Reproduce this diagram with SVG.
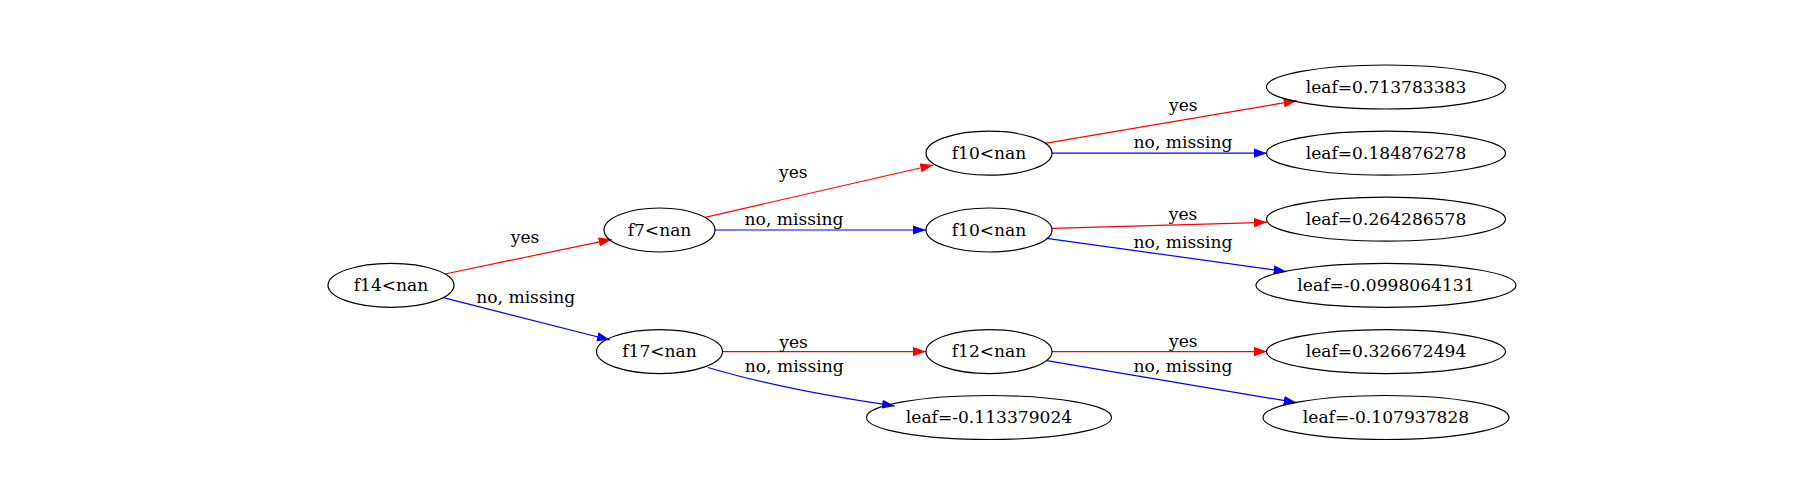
<svg xmlns="http://www.w3.org/2000/svg" width="1800" height="500" viewBox="0 0 1800 500">
<style>
.node ellipse{fill:none;stroke:#000;stroke-width:1.2}
text{font-family:"DejaVu Serif","Liberation Serif",serif;font-size:17.1px;fill:#000;text-anchor:middle}
.yes{fill:none;stroke:#ff0000;stroke-width:1.2}
.no{fill:none;stroke:#0000ff;stroke-width:1.2}
</style>
<defs>
<marker id="ar" markerUnits="userSpaceOnUse" markerWidth="13" markerHeight="10" viewBox="0 0 12.2 8.6" refX="12.2" refY="4.3" orient="auto"><path d="M0,0 L12.2,4.3 L0,8.6 z" fill="#ff0000"/></marker>
<marker id="ab" markerUnits="userSpaceOnUse" markerWidth="13" markerHeight="10" viewBox="0 0 12.2 8.6" refX="12.2" refY="4.3" orient="auto"><path d="M0,0 L12.2,4.3 L0,8.6 z" fill="#0000ff"/></marker>
</defs>
<rect width="1800" height="500" fill="#fff"/>
<g id="edges">
<path class="yes" d="M445,274 L611.7,239.3" marker-end="url(#ar)"/>
<text x="525" y="243">yes</text>
<path class="no" d="M443.3,297.7 L610,340" marker-end="url(#ab)"/>
<text x="525.7" y="302.7">no, missing</text>
<path class="yes" d="M705,217.3 L933.3,165" marker-end="url(#ar)"/>
<text x="793.3" y="178.3">yes</text>
<path class="no" d="M715,230 L926,230" marker-end="url(#ab)"/>
<text x="794" y="225">no, missing</text>
<path class="yes" d="M722,351.6 L926,351.6" marker-end="url(#ar)"/>
<text x="793.5" y="347.5">yes</text>
<path class="no" d="M708,367.5 C760,383 825,396 895,406" marker-end="url(#ab)"/>
<text x="794.2" y="371.7">no, missing</text>
<path class="yes" d="M1045,143.3 L1296.7,100.7" marker-end="url(#ar)"/>
<text x="1183.3" y="110.7">yes</text>
<path class="no" d="M1052,153.2 L1267,153.2" marker-end="url(#ab)"/>
<text x="1183" y="148.3">no, missing</text>
<path class="yes" d="M1051.7,228.3 L1267,222.3" marker-end="url(#ar)"/>
<text x="1183" y="220">yes</text>
<path class="no" d="M1046.7,238.3 L1286.7,271.7" marker-end="url(#ab)"/>
<text x="1183" y="248.3">no, missing</text>
<path class="yes" d="M1052,351.6 L1267,351.6" marker-end="url(#ar)"/>
<text x="1183.3" y="347.3">yes</text>
<path class="no" d="M1046.7,360.7 L1296.7,402.7" marker-end="url(#ab)"/>
<text x="1183" y="372.3">no, missing</text>
</g>
<g id="n_f14" class="node"><ellipse cx="391" cy="285.3" rx="63" ry="22"/><text x="391" y="291">f14&lt;nan</text></g>
<g id="n_f7" class="node"><ellipse cx="659.5" cy="230" rx="55.5" ry="22"/><text x="659.5" y="235.7">f7&lt;nan</text></g>
<g id="n_f17" class="node"><ellipse cx="659.5" cy="351.6" rx="63" ry="22"/><text x="659.5" y="357.3">f17&lt;nan</text></g>
<g id="n_f10a" class="node"><ellipse cx="989" cy="153.2" rx="63" ry="22"/><text x="989" y="158.9">f10&lt;nan</text></g>
<g id="n_f10b" class="node"><ellipse cx="989" cy="230" rx="63" ry="22"/><text x="989" y="235.7">f10&lt;nan</text></g>
<g id="n_f12" class="node"><ellipse cx="989" cy="351.6" rx="63" ry="22"/><text x="989" y="357.3">f12&lt;nan</text></g>
<g id="n_leaf_m113" class="node"><ellipse cx="989" cy="417.5" rx="122.5" ry="22"/><text x="989" y="423.2">leaf=-0.113379024</text></g>
<g id="n_leaf1" class="node"><ellipse cx="1386" cy="87" rx="119.5" ry="22"/><text x="1386" y="92.7">leaf=0.713783383</text></g>
<g id="n_leaf2" class="node"><ellipse cx="1386" cy="153.2" rx="119.5" ry="22"/><text x="1386" y="158.9">leaf=0.184876278</text></g>
<g id="n_leaf3" class="node"><ellipse cx="1386" cy="219.2" rx="119.5" ry="22"/><text x="1386" y="224.9">leaf=0.264286578</text></g>
<g id="n_leaf4" class="node"><ellipse cx="1386" cy="285.3" rx="130" ry="22"/><text x="1386" y="291">leaf=-0.0998064131</text></g>
<g id="n_leaf5" class="node"><ellipse cx="1386" cy="351.6" rx="119.5" ry="22"/><text x="1386" y="357.3">leaf=0.326672494</text></g>
<g id="n_leaf6" class="node"><ellipse cx="1386" cy="417.5" rx="123" ry="22"/><text x="1386" y="423.2">leaf=-0.107937828</text></g>
</svg>
